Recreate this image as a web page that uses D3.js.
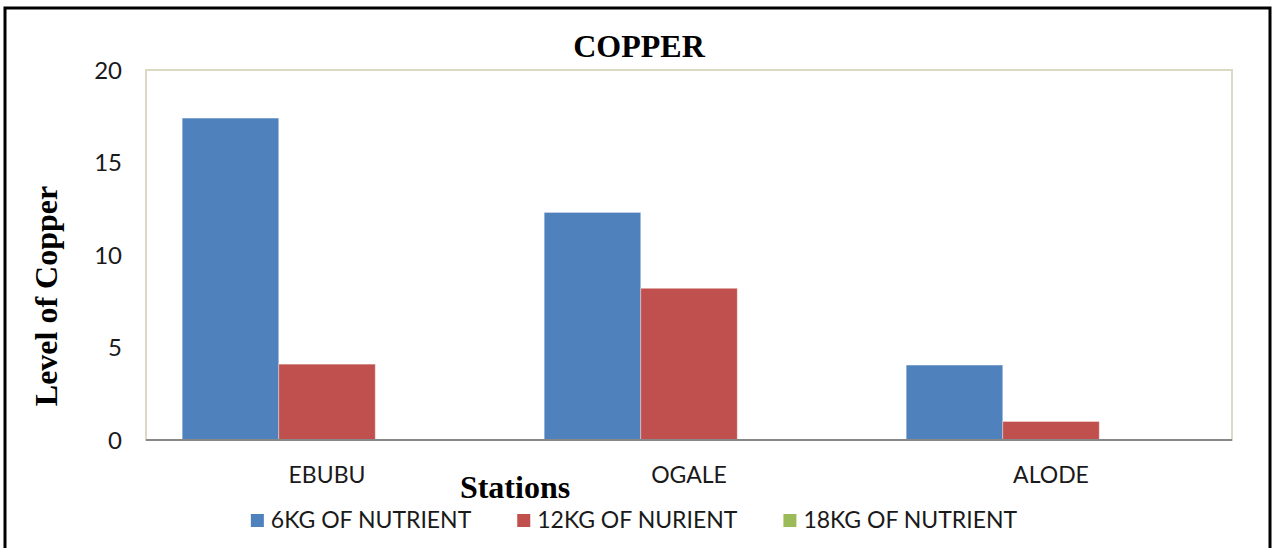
<!DOCTYPE html>
<html>
<head>
<meta charset="utf-8">
<script src="https://cdn.jsdelivr.net/npm/d3@7"></script>
<style>
  html, body { margin: 0; padding: 0; background: #fff; }
  svg { display: block; }
  .sans { font-family: Lato, "Open Sans", sans-serif; fill: #1a1a1a; }
  .serif { font-family: "Liberation Serif", "Times New Roman", serif; font-weight: bold; fill: #000; }
</style>
</head>
<body>
<svg id="chart" width="1273" height="548"></svg>
<script>
// Copper level per station for each nutrient dose
const stations = ["EBUBU", "OGALE", "ALODE"];
const seriesNames = ["6KG OF NUTRIENT", "12KG OF NURIENT", "18KG OF NUTRIENT"];
const copper6kg = [17.4, 12.3, 4.05];
const copper12kg = [4.1, 8.2, 1.0];
const copper18kg = [0, 0, 0];
const seriesColors = ["#4f81bd", "#c0504d", "#9bbb59"];
const yTicks = [0, 5, 10, 15, 20];

const seriesValues = [copper6kg, copper12kg, copper18kg];
const rows = stations.map((s, i) => ({
  station: s,
  values: seriesNames.map((n, j) => ({ series: n, value: seriesValues[j][i], color: seriesColors[j] }))
}));

const svg = d3.select("#chart");

// Outer frame
svg.append("rect")
  .attr("x", 5).attr("y", 8)
  .attr("width", 1265).attr("height", 560)
  .attr("fill", "#fff").attr("stroke", "#000").attr("stroke-width", 3);

const plot = { left: 146, top: 70, right: 1232, bottom: 440 };

const x0 = d3.scaleBand()
  .domain(stations)
  .range([plot.left, plot.right])
  .paddingInner(0.2)
  .paddingOuter(0.1);

const x1 = d3.scaleBand()
  .domain(seriesNames)
  .range([0, x0.bandwidth()]);

const y = d3.scaleLinear()
  .domain([0, 20])
  .range([plot.bottom, plot.top]);

// Plot area frame
svg.append("rect")
  .attr("x", plot.left).attr("y", plot.top)
  .attr("width", plot.right - plot.left).attr("height", plot.bottom - plot.top)
  .attr("fill", "#fff").attr("stroke", "#ddd8c3").attr("stroke-width", 2);

// Bars
const groups = svg.append("g").selectAll("g")
  .data(rows).join("g")
  .attr("transform", d => `translate(${x0(d.station)},0)`);

groups.selectAll("rect")
  .data(d => d.values.filter(v => v.value > 0))
  .join("rect")
  .attr("x", d => x1(d.series))
  .attr("y", d => y(d.value))
  .attr("width", x1.bandwidth())
  .attr("height", d => y(0) - y(d.value))
  .attr("fill", d => d.color)
  .attr("stroke", "#fff").attr("stroke-opacity", 0.35).attr("stroke-width", 1);

// Category axis line
const xAxis = svg.append("g")
  .attr("transform", `translate(0,${plot.bottom})`)
  .call(d3.axisBottom(x0).tickSize(0).tickPadding(0));
xAxis.select(".domain").attr("stroke", "#878787").attr("stroke-width", 2)
  .attr("d", `M${plot.left},0H${plot.right}`);
xAxis.selectAll("text")
  .attr("class", "sans")
  .attr("dy", null)
  .attr("y", 43)
  .style("font-size", "23px");

// Value axis labels
const yAxis = svg.append("g")
  .attr("transform", `translate(${plot.left},0)`)
  .call(d3.axisLeft(y).tickValues(yTicks).tickSize(0).tickPadding(24));
yAxis.select(".domain").remove();
yAxis.selectAll("text")
  .attr("class", "sans")
  .attr("dy", "0.35em")
  .style("font-size", "24px");

// Title
svg.append("text")
  .attr("class", "serif")
  .attr("x", 639).attr("y", 57)
  .attr("text-anchor", "middle")
  .style("font-size", "32px")
  .text("COPPER");

// Axis titles
svg.append("text")
  .attr("class", "serif")
  .attr("x", 515).attr("y", 498)
  .attr("text-anchor", "middle")
  .style("font-size", "32px")
  .text("Stations");

svg.append("text")
  .attr("class", "serif")
  .attr("transform", "translate(57,296) rotate(-90)")
  .attr("text-anchor", "middle")
  .style("font-size", "32px")
  .text("Level of Copper");

// Legend
const legend = svg.append("g");
const items = legend.selectAll("g")
  .data(seriesNames.map((n, i) => ({ name: n, color: seriesColors[i] })))
  .join("g");
items.append("rect")
  .attr("width", 13).attr("height", 13)
  .attr("y", 514)
  .attr("fill", d => d.color);
items.append("text")
  .attr("class", "sans")
  .attr("x", 20).attr("y", 528)
  .style("font-size", "23px")
  .text(d => d.name);

const gap = 46;
const widths = items.nodes().map(n => 20 + d3.select(n).select("text").node().getComputedTextLength());
const total = d3.sum(widths) + gap * (widths.length - 1);
let cursor = 634 - total / 2;
items.each(function (d, i) {
  d3.select(this).attr("transform", `translate(${cursor},0)`);
  cursor += widths[i] + gap;
});
</script>
</body>
</html>
